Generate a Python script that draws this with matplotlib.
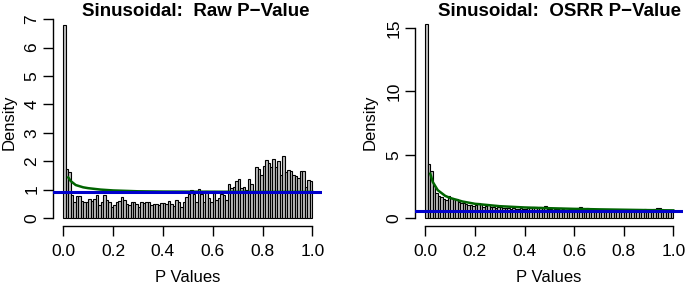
import matplotlib
matplotlib.use("Agg")
import matplotlib.pyplot as plt
import numpy as np

# ---- data ----
bin_edges = [i / 100 for i in range(101)]

raw_density = [
    6.78, 1.72, 1.62, 0.80, 0.55, 0.78, 0.78, 0.60, 0.55, 0.58,
    0.68, 0.60, 0.68, 0.80, 0.45, 0.55, 0.80, 0.65, 0.55, 0.40,
    0.45, 0.55, 0.60, 0.75, 0.65, 0.50, 0.45, 0.58, 0.55, 0.50,
    0.40, 0.58, 0.52, 0.55, 0.55, 0.45, 0.50, 0.50, 0.45, 0.52,
    0.52, 0.48, 0.60, 0.50, 0.42, 0.62, 0.55, 0.38, 0.55, 0.75,
    0.85, 1.00, 0.85, 0.55, 1.02, 0.85, 0.55, 0.95, 0.70, 0.55,
    0.95, 0.65, 0.72, 0.85, 0.80, 0.65, 1.20, 1.05, 1.10, 1.30,
    1.38, 1.05, 1.08, 1.00, 1.38, 1.20, 0.95, 1.80, 1.72, 1.50,
    1.82, 2.05, 1.95, 1.78, 2.08, 1.78, 2.00, 1.50, 2.20, 1.62,
    1.70, 1.65, 1.52, 1.48, 1.42, 1.65, 1.65, 1.10, 1.35, 1.30,
]

osrr_density = [
    15.30, 4.25, 3.72, 2.50, 2.00, 1.70, 1.65, 1.50, 1.45, 1.70,
    1.55, 1.50, 1.50, 1.30, 1.20, 1.20, 1.10, 1.05, 1.00, 0.95,
    1.05, 1.20, 1.10, 0.90, 0.95, 1.00, 0.90, 0.85, 0.80, 0.85,
    0.85, 0.80, 0.75, 0.80, 0.70, 0.75, 0.70, 0.70, 0.75, 0.70,
    0.70, 0.75, 0.80, 0.90, 0.85, 0.80, 0.85, 0.75, 0.95, 0.70,
    0.70, 0.65, 0.70, 0.70, 0.75, 0.70, 0.65, 0.65, 0.70, 0.65,
    0.70, 0.75, 0.85, 0.70, 0.65, 0.75, 0.70, 0.60, 0.60, 0.55,
    0.60, 0.55, 0.55, 0.60, 0.55, 0.55, 0.55, 0.60, 0.55, 0.55,
    0.55, 0.60, 0.65, 0.55, 0.60, 0.65, 0.60, 0.65, 0.70, 0.65,
    0.60, 0.65, 0.70, 0.75, 0.80, 0.70, 0.65, 0.60, 0.60, 0.60,
]

raw_fit_x = [0.02, 0.03, 0.05, 0.08, 0.10, 0.15, 0.20, 0.30, 0.40, 0.60, 0.80, 1.00]
raw_fit_y = [1.43, 1.30, 1.16, 1.08, 1.05, 1.00, 0.97, 0.94, 0.93, 0.925, 0.92, 0.92]

osrr_fit_x = [0.02, 0.03, 0.05, 0.08, 0.10, 0.15, 0.20, 0.30, 0.40, 0.50, 0.60, 0.70, 0.80, 0.90, 1.00]
osrr_fit_y = [3.50, 2.85, 2.20, 1.75, 1.58, 1.30, 1.12, 0.93, 0.83, 0.77, 0.72, 0.68, 0.65, 0.62, 0.60]

raw_uniform = 0.92
osrr_uniform = 0.55

titles = ["Sinusoidal:  Raw P\u2212Value", "Sinusoidal:  OSRR P\u2212Value"]
xticks = [0.0, 0.2, 0.4, 0.6, 0.8, 1.0]
xticklabels = ["0.0", "0.2", "0.4", "0.6", "0.8", "1.0"]
raw_yticks = [0, 1, 2, 3, 4, 5, 6, 7]
osrr_yticks = [0, 5, 10, 15]

plt.rcParams['font.family'] = ['Liberation Sans', 'DejaVu Sans']

W, H = 685, 287
fig = plt.figure(figsize=(W / 100, H / 100), dpi=100)

def px_axes(x0, x1, ytop, ybot):
    return fig.add_axes([x0 / W, 1 - ybot / H, (x1 - x0) / W, (ybot - ytop) / H])

panels = [
    dict(rect=(53.3, 322.3, 17.7, 225.7), dens=raw_density, fx=raw_fit_x, fy=raw_fit_y,
         h=raw_uniform, yt=raw_yticks, title=titles[0], tx=196, dx=9, xlx=188),
    dict(rect=(415.4, 683.2, 16.7, 225.7), dens=osrr_density, fx=osrr_fit_x, fy=osrr_fit_y,
         h=osrr_uniform, yt=osrr_yticks, title=titles[1], tx=560, dx=370, xlx=549),
]

edges = np.array(bin_edges)
for p in panels:
    ax = px_axes(*p['rect'])
    dens = np.array(p['dens'])
    ax.bar(edges[:-1], dens, width=np.diff(edges), align='edge',
           color='#bebebe', edgecolor='black', linewidth=0.8)
    ax.plot(p['fx'], p['fy'], color='#006400', lw=1.8, zorder=3)
    ax.axhline(p['h'], color='#0000cc', lw=2.2, zorder=4)
    ymax = dens.max()
    ax.set_xlim(-0.04, 1.04)
    ax.set_ylim(-0.04 * ymax, 1.04 * ymax)
    ax.patch.set_alpha(0)
    for s in ['top', 'right']:
        ax.spines[s].set_visible(False)
    ax.spines['bottom'].set_bounds(0, 1)
    ax.spines['left'].set_bounds(p['yt'][0], p['yt'][-1])
    for s in ['bottom', 'left']:
        ax.spines[s].set_linewidth(1.0)
    ax.set_xticks(xticks)
    ax.set_xticklabels(xticklabels)
    ax.set_yticks(p['yt'])
    ax.set_yticklabels([str(v) for v in p['yt']], rotation=90, va='center')
    ax.tick_params(axis='both', direction='out', length=7, width=1.0,
                   labelsize=12.5, colors='black')
    ax.tick_params(axis='x', pad=6)
    ax.tick_params(axis='y', pad=3)
    fig.text(p['tx'] / W, 1 - 11 / H, p['title'], ha='center', va='center',
             fontsize=13.5, fontweight='bold')
    fig.text(p['dx'] / W, 1 - 122 / H, 'Density', ha='center', va='center',
             rotation=90, fontsize=12)
    fig.text(p['xlx'] / W, 1 - 278 / H, 'P Values', ha='center', va='center',
             fontsize=12)

fig.savefig('out.png', dpi=100)
